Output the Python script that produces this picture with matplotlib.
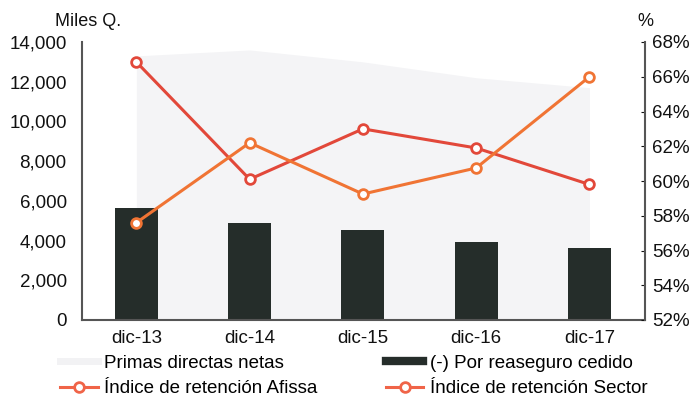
import numpy as np
import matplotlib
matplotlib.use("Agg")
from matplotlib import pyplot as plt
from matplotlib.ticker import FuncFormatter
from matplotlib.lines import Line2D

periodos = ["dic-13", "dic-14", "dic-15", "dic-16", "dic-17"]
primas_netas = [13300, 13600, 13000, 12200, 11700]
reaseguro_cedido = [5640, 4880, 4530, 3930, 3620]
retencion_afissa = [66.85, 60.1, 63.0, 61.9, 59.8]
retencion_sector = [57.6, 62.2, 59.25, 60.75, 66.0]

plt.rcParams['font.family'] = ['Liberation Sans', 'DejaVu Sans']

fig = plt.figure(figsize=(6.98, 4.0), dpi=100)
ax = fig.add_axes([0.1175, 0.2, 0.8065, 0.695])
x = np.arange(len(periodos))

ax.fill_between(x, primas_netas, color='#f4f4f6', lw=0, zorder=1)
ax.bar(x, reaseguro_cedido, 0.38, color='#252d2a', zorder=2)

ax.set_xlim(-0.48, 4.49)
ax.set_ylim(0, 14000)
ax.set_yticks(np.arange(0, 14001, 2000))
ax.yaxis.set_major_formatter(FuncFormatter(lambda v, p: f"{v:,.0f}"))
ax.set_xticks(x)
ax.set_xticklabels(periodos)
ax.tick_params(axis='y', length=0, labelsize=13.5, pad=11, colors='#111111')
ax.tick_params(axis='x', length=0, labelsize=13.5, pad=7, colors='#111111')
for s in ['top', 'right']:
    ax.spines[s].set_visible(False)
ax.spines['left'].set_color('#555555')
ax.spines['bottom'].set_color('#555555')
ax.spines['left'].set_linewidth(1.5)
ax.spines['bottom'].set_linewidth(1.5)

ax2 = ax.twinx()
ax2.plot(x, retencion_afissa, color='#e2483a', lw=2.2, marker='o', ms=7,
         mfc='white', mec='#e2483a', mew=2, zorder=4)
ax2.plot(x, retencion_sector, color='#f07434', lw=2.2, marker='o', ms=7,
         mfc='white', mec='#f07434', mew=2, zorder=4)
ax2.set_ylim(52, 68)
ax2.set_yticks(np.arange(52, 69, 2))
ax2.yaxis.set_major_formatter(FuncFormatter(lambda v, p: f"{v:.0f}%"))
ax2.tick_params(axis='y', direction='in', length=3, labelsize=13.5, pad=5, colors='#111111')
ax2.spines['top'].set_visible(False)
ax2.spines['left'].set_visible(False)
ax2.spines['bottom'].set_visible(False)
ax2.spines['right'].set_color('#555555')
ax2.spines['right'].set_linewidth(1.5)

fig.text(0.079, 0.945, "Miles Q.", fontsize=13, ha='left', va='center', color='#111111')
fig.text(0.913, 0.945, "%", fontsize=13, ha='left', va='center', color='#111111')

handles = [
    Line2D([], [], color='#f2f2f4', lw=5),
    Line2D([], [], color='#f06448', lw=2.2, marker='o', ms=7, mfc='white', mec='#f06448', mew=2),
    Line2D([], [], color='#252d2a', lw=6),
    Line2D([], [], color='#f06448', lw=2.2, marker='o', ms=7, mfc='white', mec='#f06448', mew=2),
]
labels = ["Primas directas netas", "Índice de retención Afissa",
          "(-) Por reaseguro cedido", "Índice de retención Sector"]
fig.legend(handles, labels, ncol=2, loc='upper left', bbox_to_anchor=(0.086, 0.114),
           frameon=False, fontsize=13.5, handlelength=2.0, columnspacing=3.65,
           labelspacing=0.45, handletextpad=0.35, borderpad=0, borderaxespad=0)

fig.savefig("out.png", dpi=100)
